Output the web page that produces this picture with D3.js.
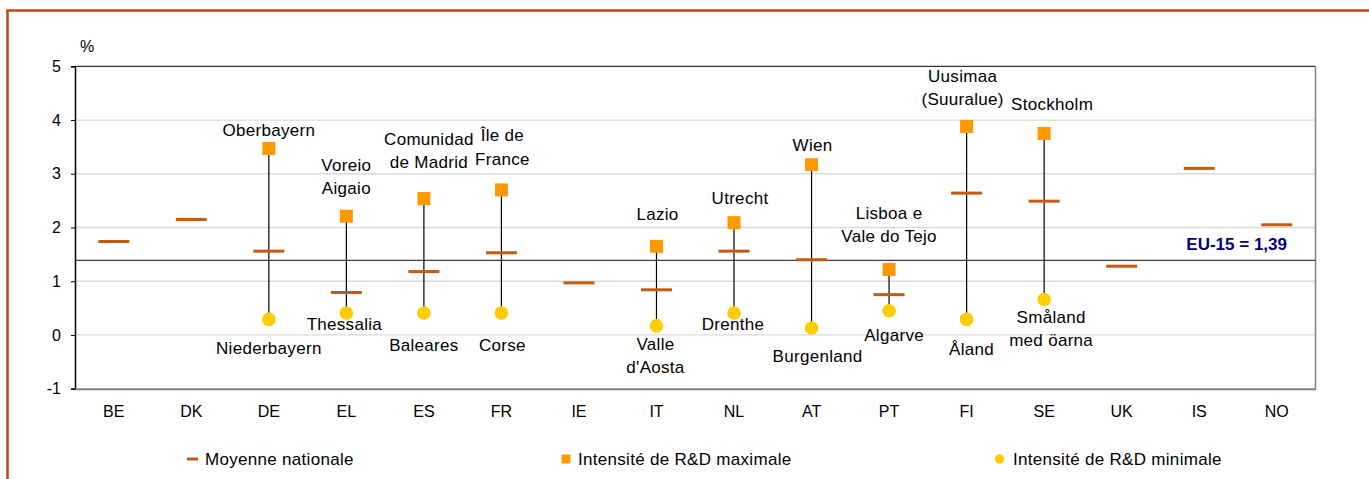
<!DOCTYPE html>
<html>
<head>
<meta charset="UTF-8">
<script src="https://d3js.org/d3.v7.min.js"></script>
<style>
  body { margin: 0; background: #fff; }
  svg { display: block; font-family: "Liberation Sans", Arial, sans-serif; }
</style>
</head>
<body>
<div id="chart"></div>
<script>
// data
var countries = ["BE", "DK", "DE", "EL", "ES", "FR", "IE", "IT", "NL", "AT", "PT", "FI", "SE", "UK", "IS", "NO"];
var moyenne = [1.74, 2.15, 1.56, 0.79, 1.18, 1.53, 0.97, 0.84, 1.56, 1.40, 0.75, 2.64, 2.49, 1.28, 3.10, 2.05];
var maximale = [null, null, 3.47, 2.21, 2.54, 2.70, null, 1.65, 2.09, 3.17, 1.22, 3.88, 3.75, null, null, null];
var minimale = [null, null, 0.29, 0.41, 0.41, 0.41, null, 0.17, 0.41, 0.13, 0.45, 0.29, 0.66, null, null, null];
var maxNames = ["", "", "Oberbayern", "Voreio\nAigaio", "Comunidad\nde Madrid", "Île de\nFrance", "", "Lazio", "Utrecht", "Wien", "Lisboa e\nVale do Tejo", "Uusimaa\n(Suuralue)", "Stockholm", "", "", ""];
var minNames = ["", "", "Niederbayern", "Thessalia", "Baleares", "Corse", "", "Valle\nd'Aosta", "Drenthe", "Burgenland", "Algarve", "Åland", "Småland\nmed öarna", "", "", ""];
var yTicks = [-1, 0, 1, 2, 3, 4, 5];
var eu15 = 1.39;

// label placement (manual nudges like in the original)
var maxOffset = [0, 0, 13, 22, 30, 25, 0, 26, 19, 14, 27, 21, 23, 0, 0, 0];
var maxShift = [0, 0, 0, 0, 5, 1, 0, 1, 6, 1, 0, -4, 8, 0, 0, 0];
var minOffset = [0, 0, 35, 17, 38, 38, 0, 24, 17, 34, 30, 36, 23, 0, 0, 0];
var minShift = [0, 0, 0, -2, 0, 1, 0, -1, -1, 6, 5, 5, 7, 0, 0, 0];

var width = 1369, height = 479;
var plotLeft = 75, plotRight = 1315.5, plotTop = 66.3, plotBottom = 388.7;
var lineH = 23.5;

var svg = d3.select("#chart").append("svg")
    .attr("width", width)
    .attr("height", height);

// frame
svg.append("path")
    .attr("d", "M7.5," + height + "V10.5H" + width)
    .attr("fill", "none")
    .attr("stroke", "#B9481B")
    .attr("stroke-width", 2.5);

var x = d3.scaleBand().domain(countries).range([plotLeft, plotRight]).padding(0);
var y = d3.scaleLinear().domain([-1, 5]).range([plotBottom, plotTop]);

// gridlines
svg.append("g").selectAll("line")
    .data(yTicks.filter(function (d) { return d > -1 && d < 5; }))
    .enter().append("line")
    .attr("x1", plotLeft).attr("x2", plotRight)
    .attr("y1", function (d) { return y(d); })
    .attr("y2", function (d) { return y(d); })
    .attr("stroke", "#D9D9D9")
    .attr("stroke-width", 1.3);

// plot border
svg.append("line").attr("x1", plotLeft).attr("x2", plotRight).attr("y1", plotTop).attr("y2", plotTop)
    .attr("stroke", "#000").attr("stroke-width", 1);
svg.append("line").attr("x1", plotRight).attr("x2", plotRight).attr("y1", plotTop).attr("y2", plotBottom)
    .attr("stroke", "#808080").attr("stroke-width", 1.5);

// EU-15 reference
svg.append("line")
    .attr("x1", plotLeft).attr("x2", plotRight)
    .attr("y1", y(eu15)).attr("y2", y(eu15))
    .attr("stroke", "#404040").attr("stroke-width", 1.2);
svg.append("text")
    .attr("x", 1287).attr("y", y(eu15) - 10.5)
    .attr("text-anchor", "end")
    .attr("font-size", "17px")
    .attr("font-weight", "bold")
    .attr("fill", "#000080")
    .text("EU-15 = 1,39");

// y axis
var yAxis = d3.axisLeft(y).tickValues(yTicks).tickSize(4).tickPadding(10)
    .tickFormat(function (d) { return String(d); });
var gy = svg.append("g").attr("transform", "translate(" + plotLeft + ",0)").call(yAxis);
gy.select(".domain").attr("stroke", "#000").attr("stroke-width", 1.5);
gy.selectAll("line").attr("stroke", "#000");
gy.selectAll("text").attr("font-size", "16px").attr("fill", "#000")
    .attr("font-family", "Liberation Sans, Arial, sans-serif");

// x axis
var xAxis = d3.axisBottom(x).tickSize(0).tickPadding(17);
var gx = svg.append("g").attr("transform", "translate(0," + plotBottom + ")").call(xAxis);
gx.select(".domain").attr("stroke", "#808080").attr("stroke-width", 2);
gx.selectAll("text").attr("font-size", "16px").attr("fill", "#000")
    .attr("font-family", "Liberation Sans, Arial, sans-serif");

svg.append("text").attr("x", 80).attr("y", 52).attr("font-size", "16px").text("%");

var idx = d3.range(countries.length);
var ranged = idx.filter(function (i) { return maximale[i] !== null; });

// stems
svg.append("g").selectAll("line")
    .data(ranged).enter().append("line")
    .attr("x1", function (i) { return x(countries[i]) + x.bandwidth() / 2; })
    .attr("x2", function (i) { return x(countries[i]) + x.bandwidth() / 2; })
    .attr("y1", function (i) { return y(maximale[i]); })
    .attr("y2", function (i) { return y(minimale[i]); })
    .attr("stroke", "#000")
    .attr("stroke-width", 1.2);

// national mean dashes
svg.append("g").selectAll("rect")
    .data(idx).enter().append("rect")
    .attr("x", function (i) { return x(countries[i]) + x.bandwidth() / 2 - 15.5; })
    .attr("y", function (i) { return y(moyenne[i]) - 1.5; })
    .attr("width", 31).attr("height", 3)
    .attr("fill", "#C55A11");

// max squares
svg.append("g").selectAll("rect")
    .data(ranged).enter().append("rect")
    .attr("x", function (i) { return x(countries[i]) + x.bandwidth() / 2 - 6.5; })
    .attr("y", function (i) { return y(maximale[i]) - 6.5; })
    .attr("width", 13).attr("height", 13)
    .attr("fill", "#FF9900");

// min circles
svg.append("g").selectAll("circle")
    .data(ranged).enter().append("circle")
    .attr("cx", function (i) { return x(countries[i]) + x.bandwidth() / 2; })
    .attr("cy", function (i) { return y(minimale[i]); })
    .attr("r", 6.8)
    .attr("fill", "#FFCC00");

// region labels
function addLabel(i, name, baseY, shift) {
    var lines = name.split("\n");
    var t = svg.append("text")
        .attr("text-anchor", "middle")
        .attr("font-size", "17px")
        .attr("letter-spacing", "0.3px")
        .attr("fill", "#000");
    lines.forEach(function (l, k) {
        t.append("tspan")
            .attr("x", x(countries[i]) + x.bandwidth() / 2 + shift)
            .attr("y", baseY + k * lineH)
            .text(l);
    });
}
ranged.forEach(function (i) {
    var nMax = maxNames[i].split("\n").length;
    addLabel(i, maxNames[i], y(maximale[i]) - maxOffset[i] - (nMax - 1) * lineH, maxShift[i]);
    addLabel(i, minNames[i], y(minimale[i]) + minOffset[i], minShift[i]);
});

// legend
var ly = 459;
var legend = svg.append("g").attr("font-size", "17px");
legend.append("rect").attr("x", 187).attr("y", ly - 1.5).attr("width", 11).attr("height", 3).attr("fill", "#C55A11");
legend.append("text").attr("x", 205).attr("y", ly + 6).attr("letter-spacing", "0.3px").text("Moyenne nationale");
legend.append("rect").attr("x", 561.5).attr("y", ly - 4.5).attr("width", 9).attr("height", 9).attr("fill", "#FF9900");
legend.append("text").attr("x", 578).attr("y", ly + 6).attr("letter-spacing", "0.3px").text("Intensité de R&D maximale");
legend.append("circle").attr("cx", 999.5).attr("cy", ly).attr("r", 4.7).attr("fill", "#FFCC00");
legend.append("text").attr("x", 1013).attr("y", ly + 6).attr("letter-spacing", "0.3px").text("Intensité de R&D minimale");
</script>
</body>
</html>
